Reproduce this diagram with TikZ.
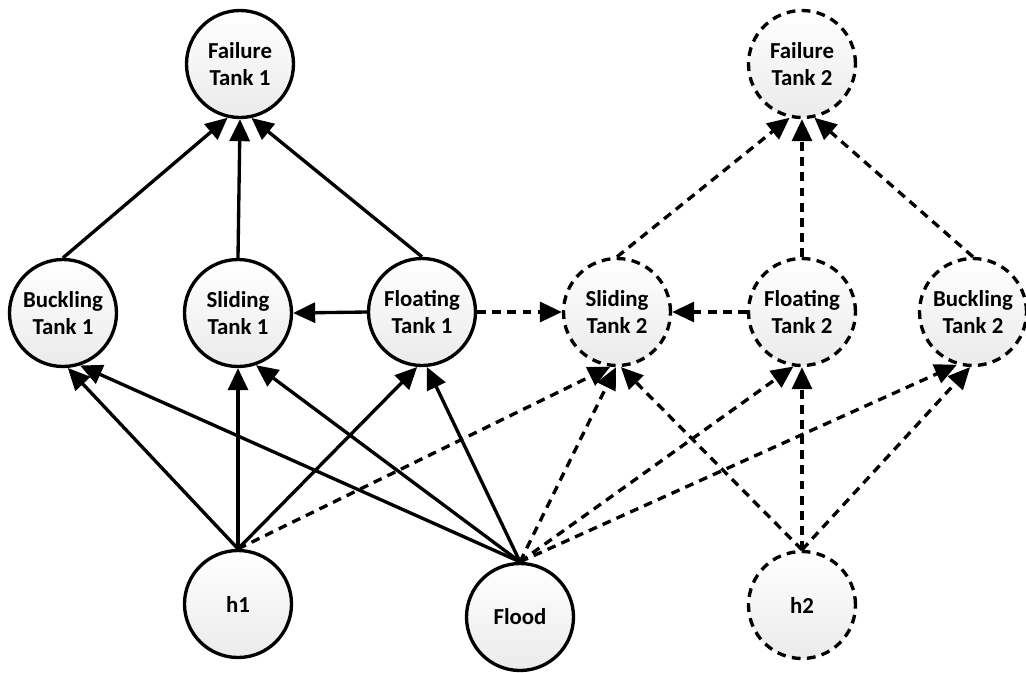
\documentclass[tikz,border=0pt]{standalone}
\usepackage{fontspec}
\setmainfont{Carlito}
\usepackage{tikz}
\usetikzlibrary{arrows.meta}

\begin{document}
\begin{tikzpicture}[
  chance/.style={circle, draw, line width=1.9pt, minimum size=2.14cm,
    inner sep=0pt, align=center, top color=white, bottom color=black!8,
    font=\bfseries\fontsize{13}{15.6}\selectfont},
  chance2/.style={chance, dash pattern=on 5pt off 3.6pt},
  link2/.style={dash pattern=on 5pt off 3.6pt},
  -{Triangle[length=0.44cm,width=0.40cm]},line width=1.9pt
]
\useasboundingbox (0,0) rectangle (20.52,-13.44);
\node[chance] (fail1) at (4.80,-1.28) {Failure\\Tank 1};
\node[chance2] (fail2) at (16.04,-1.28) {Failure\\Tank 2};
\node[chance] (buck1) at (1.26,-6.26) {Buckling\\Tank 1};
\node[chance] (slid1) at (4.76,-6.26) {Sliding\\Tank 1};
\node[chance] (float1) at (8.44,-6.24) {Floating\\Tank 1};
\node[chance2] (slid2) at (12.34,-6.24) {Sliding\\Tank 2};
\node[chance2] (float2) at (16.04,-6.24) {Floating\\Tank 2};
\node[chance2] (buck2) at (19.46,-6.24) {Buckling\\Tank 2};
\node[chance] (h1) at (4.76,-12.08) {h1};
\node[chance] (flood) at (10.40,-12.34) {Flood};
\node[chance2] (h2) at (16.04,-12.10) {h2};

% tank 1
\draw (buck1.north) -- (fail1.-103);
\draw (slid1.north) -- (fail1.-90);
\draw (float1.north) -- (fail1.-78);
\draw (float1.west) -- (slid1.east);
\draw (h1.north) -- (buck1.-85);
\draw (h1.north) -- (slid1.-90);
\draw (h1.north) -- (float1.-95);
\draw (flood.north) -- (buck1.-72);
\draw (flood.north) -- (slid1.-71);
\draw (flood.north) -- (float1.-85);

% tank 2
\draw[link2] (slid2.north) -- (fail2.-103);
\draw[link2] (float2.north) -- (fail2.-90);
\draw[link2] (buck2.north) -- (fail2.-77);
\draw[link2] (float1.east) -- (slid2.west);
\draw[link2] (float2.west) -- (slid2.east);
\draw[link2] (h1.north) -- (slid2.-97);
\draw[link2] (flood.north) -- (slid2.-91);
\draw[link2] (flood.north) -- (float2.-99);
\draw[link2] (flood.north) -- (buck2.-107);
\draw[link2] (h2.north) -- (slid2.-86);
\draw[link2] (h2.north) -- (float2.-90);
\draw[link2] (h2.north) -- (buck2.-93);
\end{tikzpicture}
\end{document}
